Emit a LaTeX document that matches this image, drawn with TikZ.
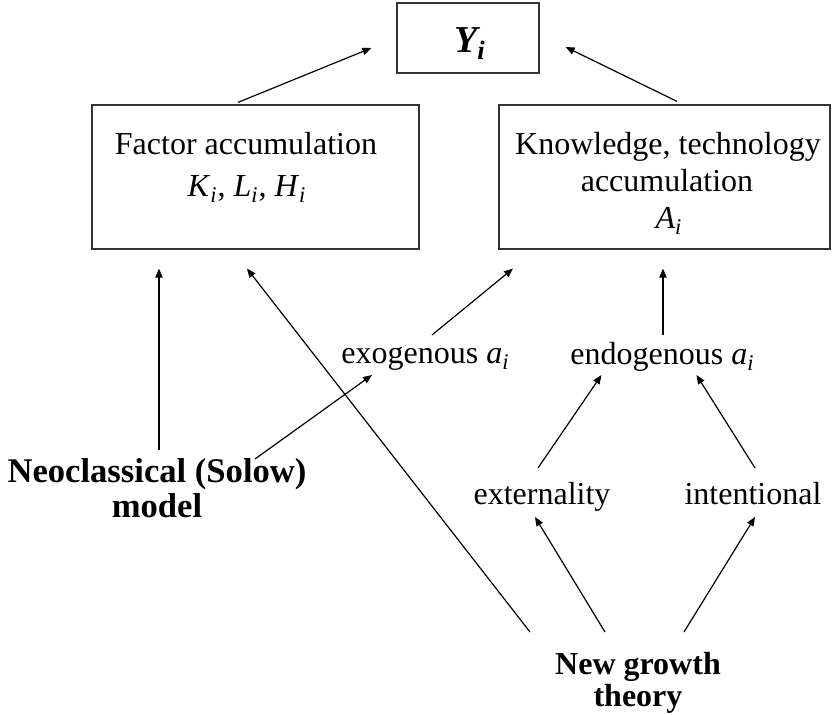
\documentclass[tikz,border=0pt]{standalone}
\usepackage{fontspec}
\setmainfont{Liberation Serif}
\usetikzlibrary{arrows.meta,calc}
\newcommand\isub[1]{\textsubscript{\textit{#1}}}
\begin{document}
\begin{tikzpicture}[x=0.5pt,y=-0.5pt,
  box/.style={draw=black!80,line width=0.6pt,inner sep=0pt},
  txt/.style={inner sep=0pt,anchor=base,font=\fontsize{16}{19}\selectfont},
  btxt/.style={txt,font=\fontsize{16}{19}\selectfont\bfseries},
  arr/.style={draw=black,line width=0.6pt,-{Triangle[length=4.5pt,width=3.6pt]}}
]
\useasboundingbox (0,0) rectangle (832,715);
% boxes
\node[box,minimum width=71pt,minimum height=35pt] (Y) at (468,38) {};
\node[box,minimum width=163.5pt,minimum height=72pt] (fa) at (255.5,177) {};
\node[box,minimum width=165.5pt,minimum height=72pt] (ka) at (664.5,177) {};
% texts
\node[txt,font=\fontsize{19}{22}\selectfont\bfseries\itshape] (ytxt) at (470,53) {Y\textsubscript{i}};
\node[txt] (fa1) at (246,155) {Factor accumulation};
\node[txt] (fa2) at (247,197) {\textit{K}\isub{i}, \textit{L}\isub{i}, \textit{H}\isub{i}};
\node[txt] (ka1) at (668,155) {Knowledge, technology};
\node[txt] (ka2) at (667,192) {accumulation};
\node[txt] (ka3) at (669,229) {\textit{A}\isub{i}};
\node[txt,anchor=base west] (exo) at (341,364) {exogenous \textit{a}\isub{i}};
\node[txt] (endo) at (662.5,365) {endogenous \textit{a}\isub{i}};
\node[txt] (ext) at (542,505) {externality};
\node[txt] (int) at (753,505) {intentional};
\node[btxt,font=\fontsize{17.3}{20}\selectfont\bfseries] (neo1) at (157,483) {Neoclassical (Solow)};
\node[btxt,font=\fontsize{17.3}{20}\selectfont\bfseries] (neo2) at (157,518) {model};
\node[btxt] (ngt1) at (638,675) {New growth};
\node[btxt] (ngt2) at (638,707) {theory};
% arrows
\draw[arr] ($(fa.north)+(-17.5,-2)$) -- ($(Y.west)+(-25,10)$);
\draw[arr] ($(ka.north)+(12.5,-3)$) -- ($(Y.east)+(26,9)$);
\draw[arr] ($(neo1.base)+(2,-33)$) -- ($(fa.south)+(-96.5,19)$);
\draw[arr] ($(neo1.base)+(98,-24)$) -- ($(exo.base west)+(31,11)$);
\draw[arr] ($(ngt1.base)+(-108,-43)$) -- ($(fa.south)+(-8.5,19)$);
\draw[arr] ($(exo.base west)+(91,-29)$) -- ($(ka.south)+(-151.5,19)$);
\draw[arr] ($(endo.base)+(0.5,-30)$) -- ($(ka.south)+(-1.5,19)$);
\draw[arr] ($(ext.base)+(-4,-37)$) -- ($(endo.base)+(-61,10)$);
\draw[arr] ($(int.base)+(2,-37)$) -- ($(endo.base)+(34,10)$);
\draw[arr] ($(ngt1.base)+(-33,-43)$) -- ($(ext.base)+(-7,12)$);
\draw[arr] ($(ngt1.base)+(46,-43)$) -- ($(int.base)+(2,12)$);
\end{tikzpicture}
\end{document}
